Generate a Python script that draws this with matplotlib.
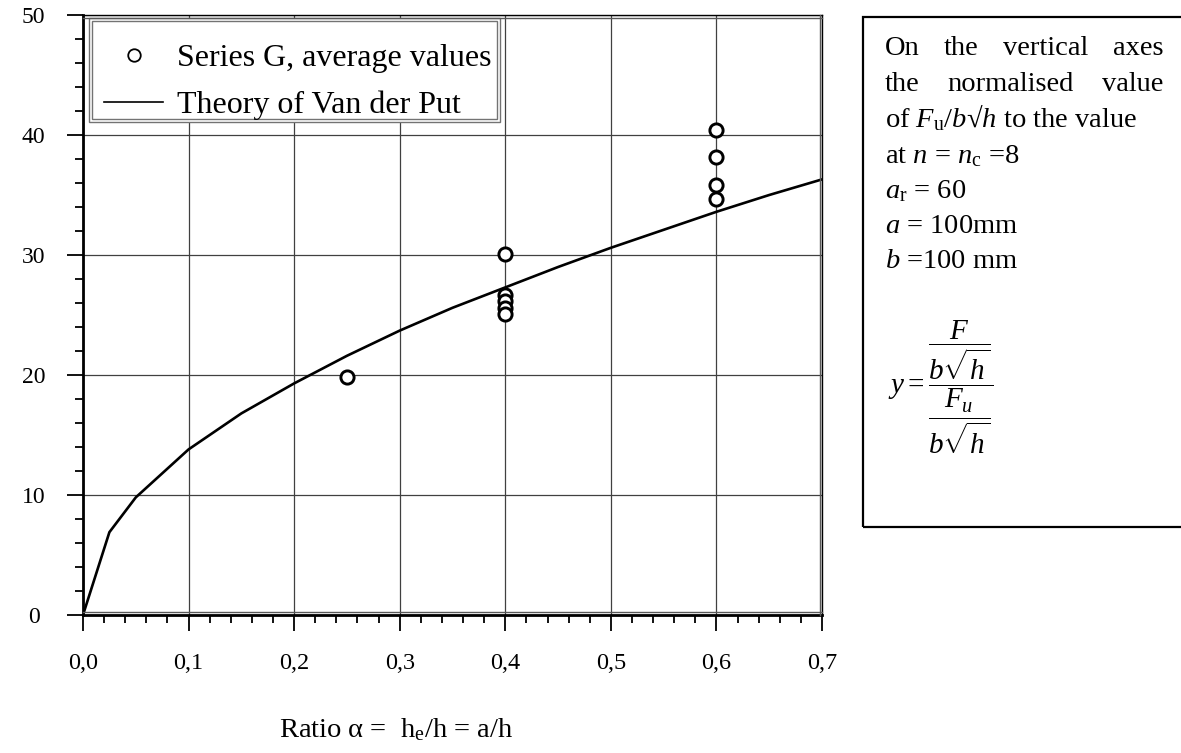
import matplotlib
matplotlib.use("Agg")
import matplotlib.pyplot as plt
from matplotlib.lines import Line2D
from matplotlib.patches import Rectangle
from matplotlib.transforms import IdentityTransform, ScaledTranslation
from matplotlib.ticker import MultipleLocator, FixedLocator

plt.rcParams.update({
    "font.family": ["Liberation Serif", "DejaVu Serif"],
    "mathtext.fontset": "custom",
    "mathtext.rm": "Liberation Serif",
    "mathtext.it": "Liberation Serif:italic",
    "mathtext.bf": "Liberation Serif:bold",
})

# Theory of Van der Put
theory_alpha = [0.0, 0.025, 0.05, 0.1, 0.15, 0.2, 0.25, 0.3, 0.35, 0.4, 0.45, 0.5, 0.55, 0.6, 0.65, 0.7]
theory_y = [0.0, 6.9, 9.8, 13.8, 16.8, 19.3, 21.6, 23.7, 25.6, 27.3, 29.0, 30.6, 32.1, 33.6, 35.0, 36.3]

# Series G, average values
series_alpha = [0.25, 0.4, 0.4, 0.4, 0.4, 0.4, 0.6, 0.6, 0.6, 0.6]
series_y = [19.8, 30.1, 26.7, 26.2, 25.6, 25.1, 40.4, 38.2, 35.8, 34.7]

x_ticks = [0.0, 0.1, 0.2, 0.3, 0.4, 0.5, 0.6, 0.7]
x_labels = ["0,0", "0,1", "0,2", "0,3", "0,4", "0,5", "0,6", "0,7"]
y_ticks = [0, 10, 20, 30, 40, 50]

legend_labels = ["Series G, average values", "Theory of Van der Put"]
x_title = r"Ratio α =  h$_\mathregular{e}$/h = a/h"

justified_lines = [["On", "the", "vertical", "axes"],
                   ["the", "normalised", "value"]]
plain_lines = [r"of $F_\mathrm{u}$/$b$√$h$ to the value",
               r"at $n$ = $n_\mathrm{c}$ =8",
               r"$a_\mathrm{r}$ = 60",
               r"$a$ = 100mm",
               r"$b$ =100 mm"]
formula = r"$y=\dfrac{\dfrac{F}{b\sqrt{h}}}{\dfrac{F_u}{b\sqrt{h}}}$"

W, H = 1181, 753
AX_L, AX_R, AX_T, AX_B = 83, 822, 15, 615
fig = plt.figure(figsize=(W / 100, H / 100), dpi=100)
ax = fig.add_axes([AX_L / W, 1 - AX_B / H, (AX_R - AX_L) / W, (AX_B - AX_T) / H])


def ax_x(p):
    return (p - AX_L) / (AX_R - AX_L)


def ax_y(p):
    return (AX_B - p) / (AX_B - AX_T)


ax.plot(theory_alpha, theory_y, color="black", lw=1.9, zorder=3, solid_joinstyle="miter")
ax.plot(series_alpha, series_y, ls="none", marker="o", ms=9.5, mew=2.1,
        mfc="white", mec="black", zorder=4)

ax.set_xlim(0, 0.7)
ax.set_ylim(0, 50)
ax.xaxis.set_major_locator(FixedLocator(x_ticks))
ax.set_xticklabels(x_labels)
ax.xaxis.set_minor_locator(MultipleLocator(0.02))
ax.yaxis.set_major_locator(FixedLocator(y_ticks))
ax.yaxis.set_minor_locator(MultipleLocator(2))
ax.tick_params(which="major", direction="out", length=11.5, width=1.3, color="black")
ax.tick_params(which="minor", direction="out", length=5.5, width=1.3)
ax.tick_params(axis="x", which="major", pad=16, labelsize=17.5)
ax.tick_params(axis="y", which="major", pad=24, labelsize=17)
for t in ax.get_yticklabels():
    t.set_ha("center")

ax.grid(True, which="major", color="0.25", lw=0.9, zorder=1)
for side in ["left", "bottom"]:
    ax.spines[side].set_linewidth(2.0)
for side in ["top", "right"]:
    ax.spines[side].set_linewidth(1.0)


# inner frame line (double border look)
def inner_line(xs, ys, dx, dy):
    tr = ax.transAxes + ScaledTranslation(dx / 100, dy / 100, fig.dpi_scale_trans)
    ax.add_line(Line2D(xs, ys, transform=tr, color="0.35", lw=1.0, clip_on=False, zorder=5))


inner_line([0, 1], [1, 1], 0, -2.5)
inner_line([1, 1], [0, 1], -2.5, 0)
inner_line([0, 1], [0, 0], 0, 3)

ax.set_xlabel(x_title, fontsize=20.5)
ax.xaxis.set_label_coords(ax_x(396), ax_y(730))
ax.xaxis.label.set_va("center")

# legend box: white panel with a double grey frame
lx0, lx1, ly0, ly1 = ax_x(89), ax_x(500), ax_y(122), ax_y(18)
ax.add_patch(Rectangle((lx0, ly0), lx1 - lx0, ly1 - ly0, transform=ax.transAxes,
                       fc="white", ec="0.45", lw=1.0, zorder=2.5))
ax.add_patch(Rectangle((lx0 + 3 / 739, ly0 + 3 / 600), lx1 - lx0 - 6 / 739, ly1 - ly0 - 6 / 600,
                       transform=ax.transAxes, fill=False, ec="0.45", lw=1.0, zorder=2.6))

handles = [Line2D([], [], ls="none", marker="o", ms=9, mew=1.3, mfc="white", mec="black"),
           Line2D([], [], color="black", lw=1.2)]
leg = ax.legend(handles, legend_labels, loc="upper left",
                bbox_to_anchor=(ax_x(104), ax_y(44)),
                fontsize=23, frameon=False, borderpad=0, borderaxespad=0,
                handlelength=1.85, handletextpad=0.45, labelspacing=0.55)
leg.set_zorder(6)

# note box on the right
fig.add_artist(Rectangle((863 / W, 1 - 527 / H), 0.4, (527 - 17) / H, transform=fig.transFigure,
                         fill=False, ec="black", lw=1.6, clip_on=False))

fig.canvas.draw()
renderer = fig.canvas.get_renderer()
px = IdentityTransform()

note_size = 20.5
x0, x1 = 885, 1163
baselines = [55, 91, 127, 163, 198, 233, 268]
for words, yb in zip(justified_lines, baselines[:2]):
    texts = [fig.text(0, H - yb, w, fontsize=note_size, va="baseline", transform=px) for w in words]
    widths = [t.get_window_extent(renderer).width for t in texts]
    gap = (x1 - x0 - sum(widths)) / (len(words) - 1)
    xpos = x0
    for t, wd in zip(texts, widths):
        t.set_x(xpos)
        xpos += wd + gap
for line, yb in zip(plain_lines, baselines[2:]):
    fig.text(x0, H - yb, line, fontsize=note_size, va="baseline", transform=px)

fig.text(888, H - 387, formula, fontsize=21, ha="left", va="center", transform=px)

fig.savefig("out.png", dpi=100)
